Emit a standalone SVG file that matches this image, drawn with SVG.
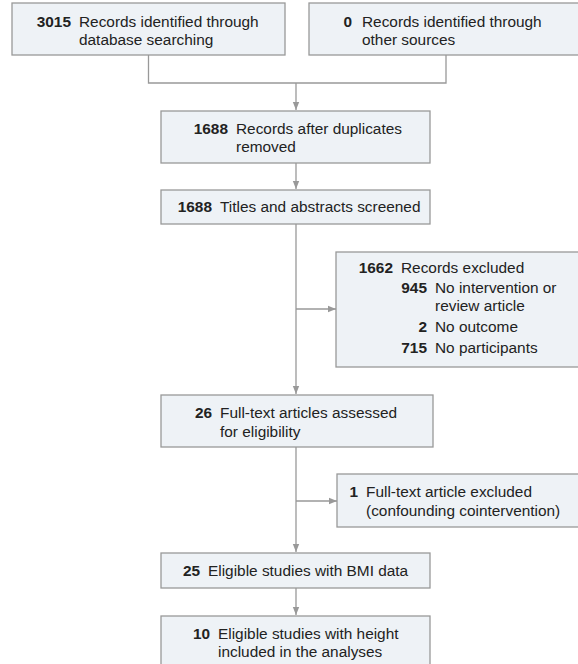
<svg xmlns="http://www.w3.org/2000/svg" width="578" height="664" viewBox="0 0 578 664">
<style>
.box{fill:#eef2f6;stroke:#999;stroke-width:1.3}
.ln{fill:none;stroke:#999;stroke-width:1.3}
text{font-family:"Liberation Sans",Arial,sans-serif;font-size:15.4px;fill:#222}
.n{font-weight:bold;text-anchor:end}
</style>
<defs>
<marker id="ah" viewBox="0 0 10 10" refX="10" refY="5" markerWidth="8" markerHeight="8" markerUnits="userSpaceOnUse" orient="auto">
<path d="M0,1 L10,5 L0,9 z" fill="#999"/>
</marker>
</defs>
<g id="connectors">
<polyline class="ln" points="148.5,55 148.5,83 446,83 446,55"/>
<line class="ln" x1="296" y1="83" x2="296" y2="110" marker-end="url(#ah)"/>
<line class="ln" x1="296" y1="163" x2="296" y2="189" marker-end="url(#ah)"/>
<line class="ln" x1="296" y1="224" x2="296" y2="394" marker-end="url(#ah)"/>
<line class="ln" x1="296" y1="309" x2="336" y2="309" marker-end="url(#ah)"/>
<line class="ln" x1="296" y1="447" x2="296" y2="552" marker-end="url(#ah)"/>
<line class="ln" x1="296" y1="501" x2="337" y2="501" marker-end="url(#ah)"/>
<line class="ln" x1="296" y1="588" x2="296" y2="615" marker-end="url(#ah)"/>
</g>
<g id="n1">
<rect class="box" x="12" y="3" width="273" height="52"/>
<text class="n" x="71" y="27">3015</text>
<text x="79" y="27">Records identified through</text>
<text x="79" y="45">database searching</text>
</g>
<g id="n2">
<rect class="box" x="309" y="3" width="275" height="52"/>
<text class="n" x="352" y="27">0</text>
<text x="362" y="27">Records identified through</text>
<text x="362" y="45">other sources</text>
</g>
<g id="n3">
<rect class="box" x="161" y="111" width="269" height="52"/>
<text class="n" x="228" y="134">1688</text>
<text x="236" y="134">Records after duplicates</text>
<text x="236" y="152">removed</text>
</g>
<g id="n4">
<rect class="box" x="161" y="190" width="269" height="34"/>
<text class="n" x="212" y="212">1688</text>
<text x="220" y="212">Titles and abstracts screened</text>
</g>
<g id="n5">
<rect class="box" x="336" y="252" width="248" height="115"/>
<text class="n" x="393" y="273">1662</text>
<text x="401" y="273">Records excluded</text>
<text class="n" x="427" y="293">945</text>
<text x="435" y="293">No intervention or</text>
<text x="435" y="311">review article</text>
<text class="n" x="427" y="332">2</text>
<text x="435" y="332">No outcome</text>
<text class="n" x="427" y="353">715</text>
<text x="435" y="353">No participants</text>
</g>
<g id="n6">
<rect class="box" x="161" y="395" width="272" height="52"/>
<text class="n" x="212" y="418">26</text>
<text x="220" y="418">Full-text articles assessed</text>
<text x="220" y="437">for eligibility</text>
</g>
<g id="n7">
<rect class="box" x="337" y="474" width="247" height="53"/>
<text class="n" x="358" y="497">1</text>
<text x="366" y="497">Full-text article excluded</text>
<text x="366" y="516">(confounding cointervention)</text>
</g>
<g id="n8">
<rect class="box" x="161" y="553" width="269" height="35"/>
<text class="n" x="200" y="576">25</text>
<text x="208" y="576">Eligible studies with BMI data</text>
</g>
<g id="n9">
<rect class="box" x="161" y="616" width="269" height="52"/>
<text class="n" x="210" y="639">10</text>
<text x="218" y="639">Eligible studies with height</text>
<text x="218" y="657">included in the analyses</text>
</g>
</svg>
